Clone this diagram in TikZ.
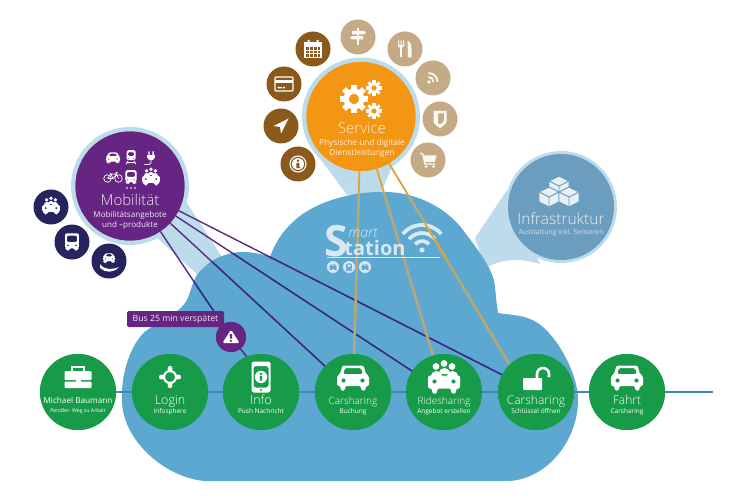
\documentclass[tikz,border=0pt]{standalone}
\usepackage{fontspec}
\setmainfont{Open Sans}
\newfontfamily\lightfont{Open Sans Light}
\newcommand\txtsize[1]{\fontsize{#1}{#1}\selectfont}
\definecolor{cloudblue}{HTML}{5CA8D0}
\definecolor{halo}{HTML}{BCDCEC}
\definecolor{greenn}{HTML}{179B48}
\definecolor{orangen}{HTML}{F39614}
\definecolor{purplen}{HTML}{662483}
\definecolor{navyn}{HTML}{26235F}
\definecolor{brownn}{HTML}{8A5A1C}
\definecolor{tann}{HTML}{C4AB85}
\definecolor{infran}{HTML}{6B9DBE}
\definecolor{linkblue}{HTML}{3A8AB0}
\definecolor{linkpurple}{HTML}{5A2A80}
\definecolor{linknavy}{HTML}{3A2C85}
\definecolor{linkgold}{HTML}{DDA23C}
\definecolor{linktan}{HTML}{B3A77E}
\definecolor{logolight}{HTML}{D8E9F4}
\colorlet{ic}{white}
\newcommand\cloudpath{(122,400) .. controls (121,378) and (128,352) .. (140,337)
  .. controls (150,323) and (175,320) .. (187,300)
  .. controls (192,288) and (192,283) .. (197,275)
  .. controls (210,258) and (228,252) .. (243,252)
  .. controls (252,252) and (262,254) .. (270,257)
  .. controls (275,243) and (282,232) .. (293,222)
  .. controls (312,203) and (350,191) .. (387,192)
  .. controls (420,193) and (448,210) .. (463,230)
  .. controls (478,250) and (494,270) .. (495,287)
  .. controls (496,298) and (497,306) .. (498,313)
  .. controls (503,314) and (508,314) .. (513,315)
  .. controls (525,316) and (535,320) .. (543,327)
  .. controls (560,342) and (578,375) .. (578,400)
  .. controls (578,440) and (548,478) .. (510,481)
  -- (205,481) .. controls (165,478) and (122,440) .. (122,400) -- cycle}
\tikzset{
  x=1pt,y=-1pt,
  big/.style={circle,inner sep=0pt,minimum size=109pt},
  haloring/.style={circle,fill=halo,inner sep=0pt,minimum size=118pt},
  stepnode/.style={circle,fill=greenn,inner sep=0pt,minimum size=76pt},
  sat/.style={circle,inner sep=0pt,minimum size=35pt},
  satdark/.style={sat,fill=brownn},
  satlight/.style={sat,fill=tann},
  satnavy/.style={sat,fill=navyn},
  lbl/.style={inner sep=0pt,text=white,anchor=base},
  purpleline/.style={line width=1.4pt},
  goldline/.style={line width=1.8pt},
  tanline/.style={line width=2.6pt},
  carfront/.pic={
    \fill[ic,even odd rule,rounded corners=1.5pt] (-10.5,-12.5)--(10.5,-12.5)--(13,-4)--(16,-2)--(16,8)--(12.5,8)--(12.5,12.5)--(8,12.5)--(8,8)--(-8,8)--(-8,12.5)--(-12.5,12.5)--(-12.5,8)--(-16,8)--(-16,-2)--(-13,-4)--cycle
      (-8,-10)--(8,-10)--(10,-4)--(-10,-4)--cycle (9.5,2.5) circle (2.2) (-9.5,2.5) circle (2.2);
  },
  busfront/.pic={
    \fill[ic,even odd rule,rounded corners=2pt] (-12,-15)--(12,-15)--(12,11)--(9,11)--(9,15)--(5,15)--(5,11)--(-5,11)--(-5,15)--(-9,15)--(-9,11)--(-12,11)--cycle
      (-9,-11)--(9,-11)--(9,0)--(-9,0)--cycle (-7,6) circle (2) (7,6) circle (2);
  },
  railcar/.pic={
    \fill[ic,even odd rule,rounded corners=1.5pt] (-10,-15)--(10,-15)--(10,7)--(-10,7)--cycle
      (-7,-11)--(7,-11)--(7,-2)--(-7,-2)--cycle (-5,3) circle (1.8) (5,3) circle (1.8);
    \draw[ic,line width=0.8pt] (-7,9)--(-11,16) (7,9)--(11,16) (-9,12.5)--(9,12.5);
  },
  plugicon/.pic={
    \fill[ic] (-7,-5)--(7,-5)--(7,-1)--(3,4)--(-3,4)--(-7,-1)--cycle;
    \fill[ic] (-5,-12) rectangle (-2.5,-5) (2.5,-12) rectangle (5,-5);
    \draw[ic,line width=0.8pt] (0,4)--(0,9)--(-4,12)--(-12,12);
  },
  bikeicon/.pic={
    \draw[ic,line width=0.7pt] (-11,3) circle (7.5) (11,3) circle (7.5);
    \draw[ic,line width=0.7pt] (-11,3)--(-4,-6)--(7,-6)--(11,3) (-4,-6)--(0,3)--(7,-6) (-11,3)--(0,3) (7,-6)--(6,-9)--(9,-9) (-4,-6)--(-5,-8);
  },
  rideshare/.pic={
    \foreach \px/\py in {-8/-13,0/-16,8/-13}{
      \fill[ic] (\px,\py) circle (3.4);
      \fill[ic] (\px-5.5,\py+10) .. controls (\px-5.5,\py+2.5) and (\px+5.5,\py+2.5) .. (\px+5.5,\py+10) -- cycle;
    }
    \fill[ic,even odd rule,rounded corners=1.5pt] (-16,-4)--(16,-4)--(16,9)--(12,9)--(12,14)--(7,14)--(7,9)--(-7,9)--(-7,14)--(-12,14)--(-12,9)--(-16,9)--cycle
      (-9.5,2) circle (2.2) (9.5,2) circle (2.2);
  },
  briefcase/.pic={
    \fill[ic,rounded corners=1pt] (-13.5,-6) rectangle (13.5,3);
    \fill[ic,rounded corners=1pt] (-13.5,4.5) rectangle (13.5,11);
    \fill[ic] (-2.5,2) rectangle (2.5,6.5);
    \draw[ic,line width=1.5pt] (-6,-6)--(-6,-10)--(6,-10)--(6,-6);
  },
  crosshair/.pic={
    \draw[ic,line width=2.2pt] (0,0) circle (6);
    \foreach \a in {0,90,180,270}{
      \fill[ic,rotate=\a] (0,-8.6) circle (2.5);
    }
  },
  phoneinfo/.pic={
    \fill[ic,even odd rule,rounded corners=2.5pt] (-9.5,-15.5) rectangle (9.5,15.5) (-7.5,-11) rectangle (7.5,10.5);
    \fill[ic] (0,0) circle (6.2);
    \fill[greenn] (0,-3) circle (1.3) (-1.2,-1) rectangle (1.2,3.5);
    \fill[greenn] (0,13) circle (1.2);
  },
  openlock/.pic={
    \fill[ic,rounded corners=1pt] (-13,0) rectangle (6,12);
    \draw[ic,line width=2.6pt] (1,1)--(1,-4) arc (180:360:6) -- (13,-1);
  },
  warnicon/.pic={
    \fill[ic,rounded corners=1.5pt] (0,-9)--(10.5,7.5)--(-10.5,7.5)--cycle;
    \fill[purplen] (-1.4,-3.5) rectangle (1.4,2) (0,4.8) circle (1.5);
  },
  gearwheel/.pic={
    \draw[ic,line width=0.42*#1] (0,0) circle (0.62*#1);
    \foreach \a in {0,45,...,315}{
      \fill[ic,rotate=\a] (-0.22*#1,-1.12*#1) rectangle (0.22*#1,-0.75*#1);
    }
  },
  cubeicon/.pic={
    \fill[ic,draw=infran,line width=0.9pt,line join=round] (0,-10)--(10,-5)--(10,5)--(0,10)--(-10,5)--(-10,-5)--cycle;
    \draw[infran,line width=0.9pt] (-10,-5)--(0,0)--(10,-5) (0,0)--(0,10);
  },
  calendaricon/.pic={
    \draw[ic,line width=1.1pt] (-8,-6) rectangle (8,8.5);
    \fill[ic] (-8,-6) rectangle (8,-2);
    \fill[ic] (-5.5,-9) rectangle (-3.5,-5) (3.5,-9) rectangle (5.5,-5);
    \draw[ic,line width=0.7pt] (-4,-2)--(-4,8) (0,-2)--(0,8) (4,-2)--(4,8) (-8,1.3)--(8,1.3) (-8,4.6)--(8,4.6);
  },
  cardicon/.pic={
    \draw[ic,line width=1.1pt,rounded corners=1pt] (-9,-7) rectangle (9,7);
    \fill[ic] (-9,-4) rectangle (9,-1);
    \fill[ic] (-6.5,3) rectangle (-2,4.3) (-1,3) rectangle (1,4.3);
  },
  navarrow/.pic={
    \fill[ic,line join=round] (7.5,-7.5)--(-7.5,0)--(-1,1)--(0,7.5)--cycle;
  },
  infoicon/.pic={
    \draw[ic,line width=1.1pt] (0,0) circle (8);
    \fill[ic] (0,0) circle (6);
    \fill[brownn] (0,-3.2) circle (1.4) (-1.7,-1) rectangle (1.3,3) (-1.7,3) rectangle (2,4.2);
  },
  signpost/.pic={
    \fill[ic] (-1.2,-8.5) rectangle (1.2,8.5);
    \fill[ic] (-6,-6)--(6,-6)--(8,-4.3)--(6,-2.6)--(-6,-2.6)--cycle;
    \fill[ic] (-8,0.8)--(-6,-0.8)--(5,-0.8)--(5,2.4)--(-6,2.4)--cycle;
  },
  cutlery/.pic={
    \fill[ic] (-7,-8.5) rectangle (-6,-2.5) (-4.5,-8.5) rectangle (-3.5,-2.5) (-2,-8.5) rectangle (-1,-2.5);
    \fill[ic] (-7,-3.5) .. controls (-7,0) and (-1,0) .. (-1,-3.5) -- cycle;
    \fill[ic] (-5.2,-2) rectangle (-2.8,8.5);
    \fill[ic] (2.5,-8.5) .. controls (6,-7.5) and (6.5,-2.5) .. (6.5,1) -- (6.5,8.5) -- (3,8.5) -- cycle;
  },
  rssicon/.pic={
    \fill[ic] (-4,4) circle (1.9);
    \draw[ic,line width=1.8pt] (-4.5,-1) arc (270:360:5);
    \draw[ic,line width=1.8pt] (-4.5,-5) arc (270:360:9);
  },
  shieldicon/.pic={
    \fill[ic,even odd rule] (-6.5,-8)--(6.5,-8)--(6.5,2)..controls (6.5,5) and (3,7) .. (0,9) .. controls (-3,7) and (-6.5,5) .. (-6.5,2)--cycle
      (-2,-5.5)--(4,-5.5)--(4,1.5).. controls (4,3) and (2,4.5) .. (0,5.5) -- (-2,4.3) -- cycle;
  },
  carticon/.pic={
    \draw[ic,line width=1.3pt] (-8.5,-6.5)--(-5.5,-6.5)--(-3,4)--(7,4);
    \fill[ic] (-4.5,-4.5)--(8.5,-4.5)--(6.8,1.8)--(-3,1.8)--cycle;
    \fill[ic] (-2,6.5) circle (1.5) (5.5,6.5) circle (1.5);
  },
  handcar/.pic={
    \pic[scale=0.38] at (0,-3) {carfront};
    \fill[ic] (-9,3) .. controls (-5,9) and (3,9) .. (10,6) .. controls (5,12) and (-4,12) .. (-9,7) -- cycle;
  }
}
\begin{document}
\begin{tikzpicture}
\useasboundingbox (0,0) rectangle (750,500);

% light funnels that tie the large discs to the cloud
\fill[halo] (310,145)--(347,195)--(380,195)--(395,160)--cycle;
\fill[halo] (185,200)--(222,257)--(200,277)--(155,236)--cycle;
\fill[halo] (507,190)--(475,238)--(485,268) .. controls (505,258) and (520,258) .. (540,264)--cycle;
\node[haloring] at (361,116.5) {};
\node[haloring] at (130,186) {};
\node[haloring,minimum size=112pt] at (561,207) {};

% cloud
\fill[cloudblue] \cloudpath;

% discs, named first so the connectors can refer to them
\node[stepnode] (michael) at (78,392) {};
\node[stepnode] (login) at (170,392) {};
\node[stepnode] (info) at (261,392) {};
\node[stepnode] (carbook) at (353,392) {};
\node[stepnode] (ride) at (444,392) {};
\node[stepnode] (carkey) at (536,392) {};
\node[stepnode] (fahrt) at (627,392) {};
\coordinate (lineend) at (713,392);
\node[big,fill=orangen] (service) at (361,116.5) {};
\node[big,fill=purplen] (mob) at (130,186) {};
\node[big,minimum size=106pt,fill=infran] (infra) at (561,207) {};
\node[circle,fill=purplen,inner sep=0pt,minimum size=30pt] (warn) at (231,337) {};

% connectors outside the cloud
\draw[linkblue,line width=1.5pt] (michael) -- (login) -- (info) -- (carbook) -- (ride) -- (carkey) -- (fahrt) -- (lineend);
\draw[linkpurple,purpleline] (mob) -- (warn);
\draw[linkpurple,purpleline] (mob) -- (carbook);
\draw[linkpurple,purpleline] (mob) -- (ride);
\draw[linkpurple,purpleline] (mob) -- (carkey);
\draw[linkgold,goldline] (service) -- (carbook);
\draw[linkgold,goldline] (service) -- (ride);
\draw[linkgold,goldline] (service) -- (carkey.134);

% the same connectors take on a muted tone where they cross the cloud
\begin{scope}
  \clip \cloudpath;
  \draw[linknavy,purpleline] (mob) -- (warn);
  \draw[linknavy,purpleline] (warn) -- (info.112);
  \draw[linknavy,purpleline] (mob) -- (carbook);
  \draw[linknavy,purpleline] (mob) -- (ride);
  \draw[linknavy,purpleline] (mob) -- (carkey);
  \draw[linktan,tanline] (service) -- (carbook);
  \draw[linktan,tanline] (service) -- (ride);
  \draw[linktan,tanline] (service) -- (carkey.134);
\end{scope}

% discs again, over the connectors
\foreach \cx in {78,170,261,353,444,536,627}{
  \fill[greenn] (\cx,392) circle (38);
}
\fill[orangen] (361,116.5) circle (54.5);
\fill[purplen] (130,186) circle (54.5);

% smart station logo
\node[inner sep=0pt,text=logolight] (logos) at (336,241) {\txtsize{43}\bfseries S};
\node[inner sep=0pt,text=logolight] (logom) at (363,233) {\txtsize{14}\lightfont\itshape mart};
\node[lbl,text=logolight] (logot) at (375,255) {\txtsize{20}\bfseries tation};
\coordinate (rulea) at (327,257);
\coordinate (ruleb) at (440,257);
\draw[logolight,line width=0.5pt] (rulea) -- (ruleb);
\foreach \cx/\ptype/\ps in {333/carfront/.22,349/busfront/.24,365/carfront/.22}{
  \fill[logolight] (\cx,267) circle (6);
  \colorlet{ic}{cloudblue}
  \pic[scale=\ps] at (\cx,267) {\ptype};
}
\colorlet{ic}{logolight}
\fill[ic] (422,250) circle (2.6);
\foreach \r in {9,17,25}{
  \draw[ic,line width=3.8pt] (422,250) ++(220:\r) arc (220:320:\r);
}
% a gold segment passes across the wifi sign
\begin{scope}
  \clip (422,250) circle (27);
  \draw[linkgold,goldline] (service) -- (carkey.134);
\end{scope}

% service satellites
\node[satdark] (s1) at (313,49) {};
\node[satdark] (s2) at (284,84) {};
\node[satdark] (s3) at (281,126) {};
\node[satdark] (s4) at (298,164) {};
\node[satlight] (s5) at (358,37) {};
\node[satlight] (s6) at (405,49) {};
\node[satlight] (s7) at (433,78) {};
\node[satlight] (s8) at (440,119) {};
\node[satlight] (s9) at (428,160) {};
\colorlet{ic}{white}
\pic at (s1) {calendaricon};
\pic at (s2) {cardicon};
\pic at (s3) {navarrow};
\pic at (s4) {infoicon};
\colorlet{ic}{white!92!tann}
\pic at (s5) {signpost};
\pic at (s6) {cutlery};
\pic at (s7) {rssicon};
\pic at (s8) {shieldicon};
\pic at (s9) {carticon};

% service disc contents
\colorlet{ic}{white}
\pic at (354,99) {gearwheel=12.5};
\pic at (374,88) {gearwheel=7};
\pic at (374,111) {gearwheel=7};
\node[lbl,text=white!85!orangen] (servt) at (362,133.5) {\txtsize{15}\lightfont Service};
\node[lbl,text=white!85!orangen] (servsa) at (362,145.3) {\txtsize{8.3}Physische und digitale};
\node[lbl,text=white!85!orangen] (servsb) at (362,155.3) {\txtsize{8.3}Dienstleistungen};

% mobility disc contents
\pic[scale=.44] at (113,158) {carfront};
\pic[scale=.45] at (131,157) {railcar};
\pic[scale=.55] at (151,158) {plugicon};
\pic[scale=.5] at (113,177) {bikeicon};
\pic[scale=.46] at (131,177) {busfront};
\pic[scale=.55] at (151,178) {rideshare};
\fill[ic] (127,188) circle (.9) (131,188) circle (.9) (135,188) circle (.9);
\node[lbl,text=white!90!purplen] (mobt) at (130,205) {\txtsize{15}\lightfont Mobilität};
\node[lbl,text=white!90!purplen] (mobsa) at (130,217.7) {\txtsize{8.1}Mobilitätsangebote};
\node[lbl,text=white!90!purplen] (mobsb) at (130,227) {\txtsize{8.1}und –produkte};

% navy satellites
\node[satnavy] (m1) at (51,207) {};
\node[satnavy] (m2) at (72,242) {};
\node[satnavy] (m3) at (109,261) {};
\pic[scale=.55] at (m1) {rideshare};
\pic[scale=.58] at (m2) {busfront};
\pic at (m3) {handcar};

% infrastructure disc contents
\colorlet{ic}{white!85!infran}
\pic at (559,186) {cubeicon};
\pic at (549,197) {cubeicon};
\pic at (569,197) {cubeicon};
\node[lbl,text=white!85!infran] (inft) at (561,225) {\txtsize{15.5}\lightfont Infrastruktur};
\node[lbl,text=white!70!infran] (infs) at (561,234.3) {\txtsize{6.8}Ausstattung inkl. Sensoren};

% delay notice
\node[fill=purplen,rounded corners=1.5pt,inner sep=0pt,minimum width=97pt,minimum height=16pt,text=white!90!purplen] (notice) at (175.5,319) {\txtsize{8.7}Bus 25 min verspätet};
\fill[purplen] (231,337) circle (15);
\colorlet{ic}{white}
\pic[scale=.82] at (231,337) {warnicon};

% journey stations
\pic at (78,377) {briefcase};
\pic at (170,377) {crosshair};
\pic at (261,377) {phoneinfo};
\pic at (353,378) {carfront};
\pic at (444,379.5) {rideshare};
\pic at (536,378) {openlock};
\pic at (627,378) {carfront};
\node[lbl] (t1) at (78,403.8) {\txtsize{8.2}Michael Baumann};
\node[lbl] (u1) at (78,412.7) {\txtsize{5.2}Pendler- Weg zu Arbeit};
\node[lbl] (t2) at (170,404.3) {\txtsize{12.5}\lightfont Login};
\node[lbl] (u2) at (170,413.3) {\txtsize{6.5}Infosphere};
\node[lbl] (t3) at (261,404.3) {\txtsize{12.5}\lightfont Info};
\node[lbl] (u3) at (261,413.3) {\txtsize{6.5}Push Nachricht};
\node[lbl] (t4) at (353,404.3) {\txtsize{10}\lightfont Carsharing};
\node[lbl] (u4) at (353,413.3) {\txtsize{6.5}Buchung};
\node[lbl] (t5) at (444,404.3) {\txtsize{10}\lightfont Ridesharing};
\node[lbl] (u5) at (444,413.3) {\txtsize{6.5}Angebot erstellen};
\node[lbl] (t6) at (536,404.3) {\txtsize{12}\lightfont Carsharing};
\node[lbl] (u6) at (536,413.3) {\txtsize{6.5}Schlüssel öffnen};
\node[lbl] (t7) at (627,404.3) {\txtsize{12}\lightfont Fahrt};
\node[lbl] (u7) at (627,413.3) {\txtsize{6.5}Carsharing};
\end{tikzpicture}
\end{document}
